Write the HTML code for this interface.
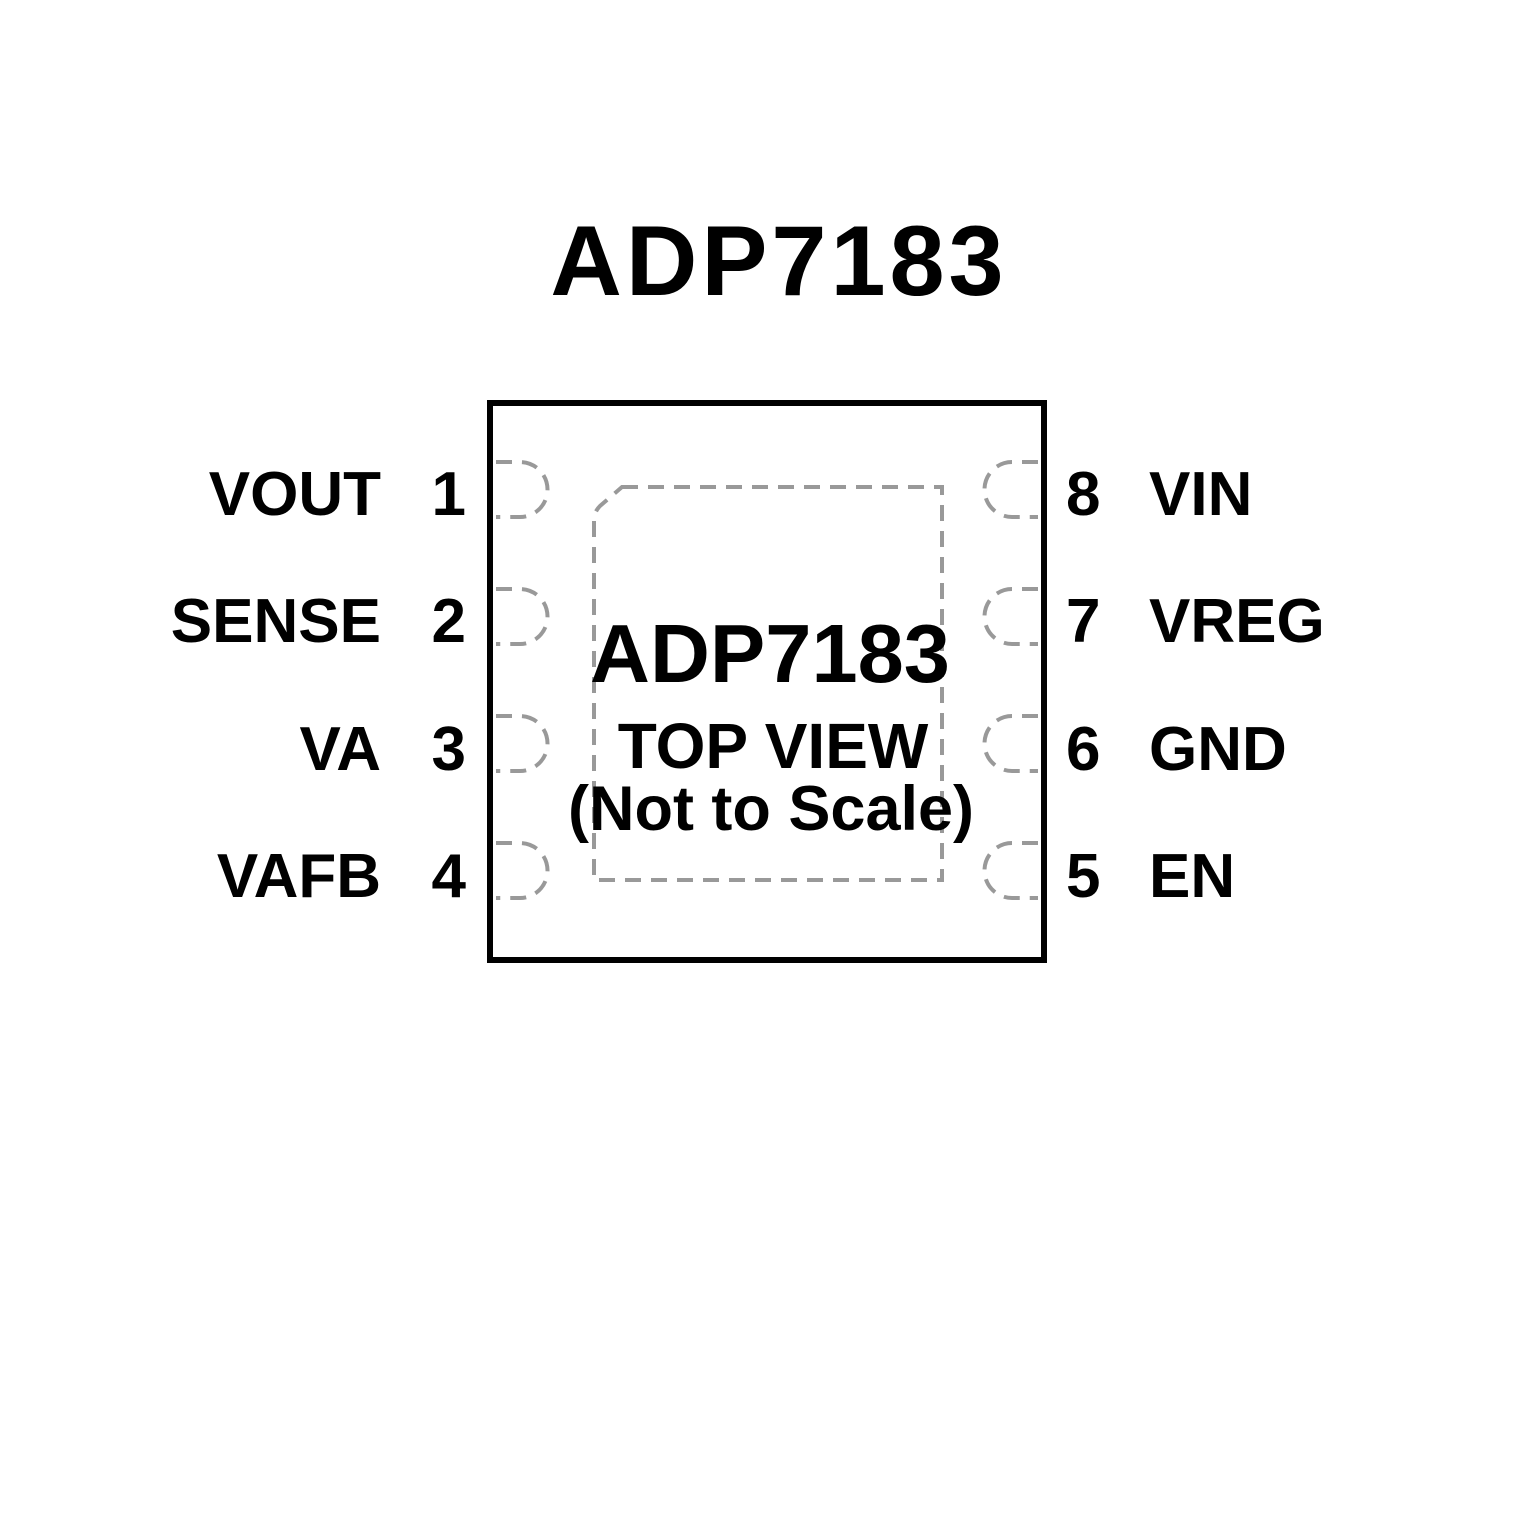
<!DOCTYPE html>
<html><head><style>
body{margin:0;background:#fff;}
svg text{font-family:"Liberation Sans",Arial,sans-serif;font-weight:bold;fill:#000;}
</style></head><body>
<svg width="1535" height="1535" xmlns="http://www.w3.org/2000/svg">
<rect width="1535" height="1535" fill="#fff"/>
<text x="779" y="295" font-size="99" text-anchor="middle" letter-spacing="4">ADP7183</text>
<rect x="490" y="403" width="554" height="557" fill="none" stroke="#000" stroke-width="6"/>
<g fill="none" stroke="#999" stroke-width="4" stroke-dasharray="16,10">
<path d="M496 462 H520 A27 27 0 0 1 520 517 H496"/>
<path d="M496 589 H520 A27 27 0 0 1 520 644 H496"/>
<path d="M496 716 H520 A27 27 0 0 1 520 771 H496"/>
<path d="M496 843 H520 A27 27 0 0 1 520 898 H496"/>
<path d="M1038 462 H1012 A27 27 0 0 0 1012 517 H1038"/>
<path d="M1038 589 H1012 A27 27 0 0 0 1012 644 H1038"/>
<path d="M1038 716 H1012 A27 27 0 0 0 1012 771 H1038"/>
<path d="M1038 843 H1012 A27 27 0 0 0 1012 898 H1038"/>
<path d="M622 487 H942 V880 H594 V520 Q594 512 600 506 Z"/>
</g>
<text x="770" y="682" font-size="83" text-anchor="middle">ADP7183</text>
<text x="773" y="768" font-size="64" text-anchor="middle">TOP VIEW</text>
<text x="771" y="830" font-size="63" text-anchor="middle">(Not to Scale)</text>
<g font-size="62">
<text x="381" y="515" text-anchor="end">VOUT</text>
<text x="381" y="642" text-anchor="end">SENSE</text>
<text x="381" y="770" text-anchor="end">VA</text>
<text x="381" y="897" text-anchor="end">VAFB</text>
<text x="466" y="515" text-anchor="end">1</text>
<text x="466" y="642" text-anchor="end">2</text>
<text x="466" y="770" text-anchor="end">3</text>
<text x="466" y="897" text-anchor="end">4</text>
<text x="1066" y="515">8</text>
<text x="1066" y="642">7</text>
<text x="1066" y="770">6</text>
<text x="1066" y="897">5</text>
<text x="1149" y="515">VIN</text>
<text x="1149" y="642">VREG</text>
<text x="1149" y="770">GND</text>
<text x="1149" y="897">EN</text>
</g>
</svg>
</body></html>
